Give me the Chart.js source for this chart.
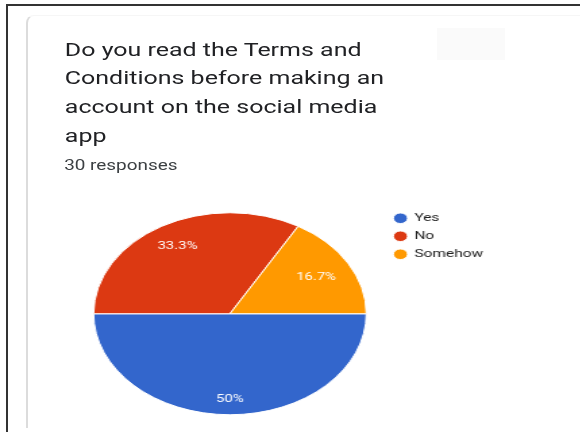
<!DOCTYPE html>
<html>
<head>
<meta charset="utf-8">
<script src="https://cdn.jsdelivr.net/npm/chart.js@4.4.0/dist/chart.umd.min.js"></script>
<style>
  html, body { margin: 0; padding: 0; background: #fff; width: 580px; height: 432px; overflow: hidden; }
  .frame { position: absolute; left: 6px; top: 4px; width: 600px; height: 460px;
           border-top: 2px solid #333; border-left: 2px solid #333; }
  .card { position: absolute; left: 26px; top: 15px; width: 580px; height: 412px;
          border-left: 2px solid #dcdcdc; border-top: 1px solid #f6f6f6; border-top-left-radius: 8px; }
  .ghost { position: absolute; left: 437px; top: 28px; width: 68px; height: 32px; background: #fafafa; }
  /* the whole content block is drawn narrow and widened sideways */
  .wide { position: absolute; left: 0; top: 0; width: 430px; height: 432px;
          transform: scaleX(1.35); transform-origin: 0 0; font-family: Roboto, sans-serif; }
  .title { position: absolute; left: 48px; top: 35.5px; font-size: 18.5px; line-height: 28.7px; color: #202124; white-space: nowrap; }
  .count { position: absolute; left: 47.5px; top: 154.5px; font-size: 14px; line-height: 20px; color: #3c4043; }
  .chartBox { position: absolute; left: 55.2px; top: 205.75px; width: 313px; height: 215.5px; }
</style>
</head>
<body>
<div class="frame"></div>
<div class="card"></div>
<div class="ghost"></div>
<div class="wide">
  <div class="title">Do you read the Terms and<br>Conditions before making an<br>account on the social media<br>app</div>
  <div class="count" id="count"></div>
  <div class="chartBox"><canvas id="myChart"></canvas></div>
</div>
<script>
const categories = ["Yes", "No", "Somehow"];
const responses = [15, 10, 5];

const total = responses.reduce((a, b) => a + b, 0);
document.getElementById("count").textContent = total + " responses";

// percentage text inside each slice
const sliceLabels = {
    id: "sliceLabels",
    afterDatasetsDraw(chart) {
        const depth = [0.85, 0.77, 0.73];
        const meta = chart.getDatasetMeta(0);
        const data = chart.data.datasets[0].data;
        const ctx = chart.ctx;
        ctx.save();
        ctx.font = "11px Roboto";
        ctx.fillStyle = "#ffffff";
        ctx.textAlign = "center";
        ctx.textBaseline = "middle";
        meta.data.forEach((arc, i) => {
            const p = arc.getProps(["x", "y", "startAngle", "endAngle", "outerRadius"], true);
            const mid = (p.startAngle + p.endAngle) / 2;
            const r = p.outerRadius * depth[i];
            const pct = Math.round((data[i] / total) * 1000) / 10;
            ctx.fillText(pct + "%", p.x + Math.cos(mid) * r, p.y + Math.sin(mid) * r);
        });
        ctx.restore();
    },
};

function makeChart() {
    const ctx = document.getElementById("myChart").getContext("2d");
    new Chart(ctx, {
        type: "pie",
        data: {
            labels: categories,
            datasets: [
                {
                    data: responses,
                    backgroundColor: ["#3366cc", "#dc3912", "#ff9900"],
                    borderColor: "#ffffff",
                    borderWidth: 1,
                    radius: 101,
                },
            ],
        },
        options: {
            responsive: true,
            maintainAspectRatio: false,
            animation: false,
            rotation: 90,
            layout: { padding: 0 },
            plugins: {
                tooltip: { enabled: false },
                legend: {
                    position: "right",
                    align: "start",
                    labels: {
                        usePointStyle: true,
                        pointStyle: "circle",
                        boxWidth: 9,
                        boxHeight: 7.5,
                        padding: 6.5,
                        color: "#222222",
                        font: { family: "Roboto", size: 11.5 },
                    },
                },
            },
        },
        plugins: [sliceLabels],
    });
}

makeChart();
</script>
</body>
</html>
